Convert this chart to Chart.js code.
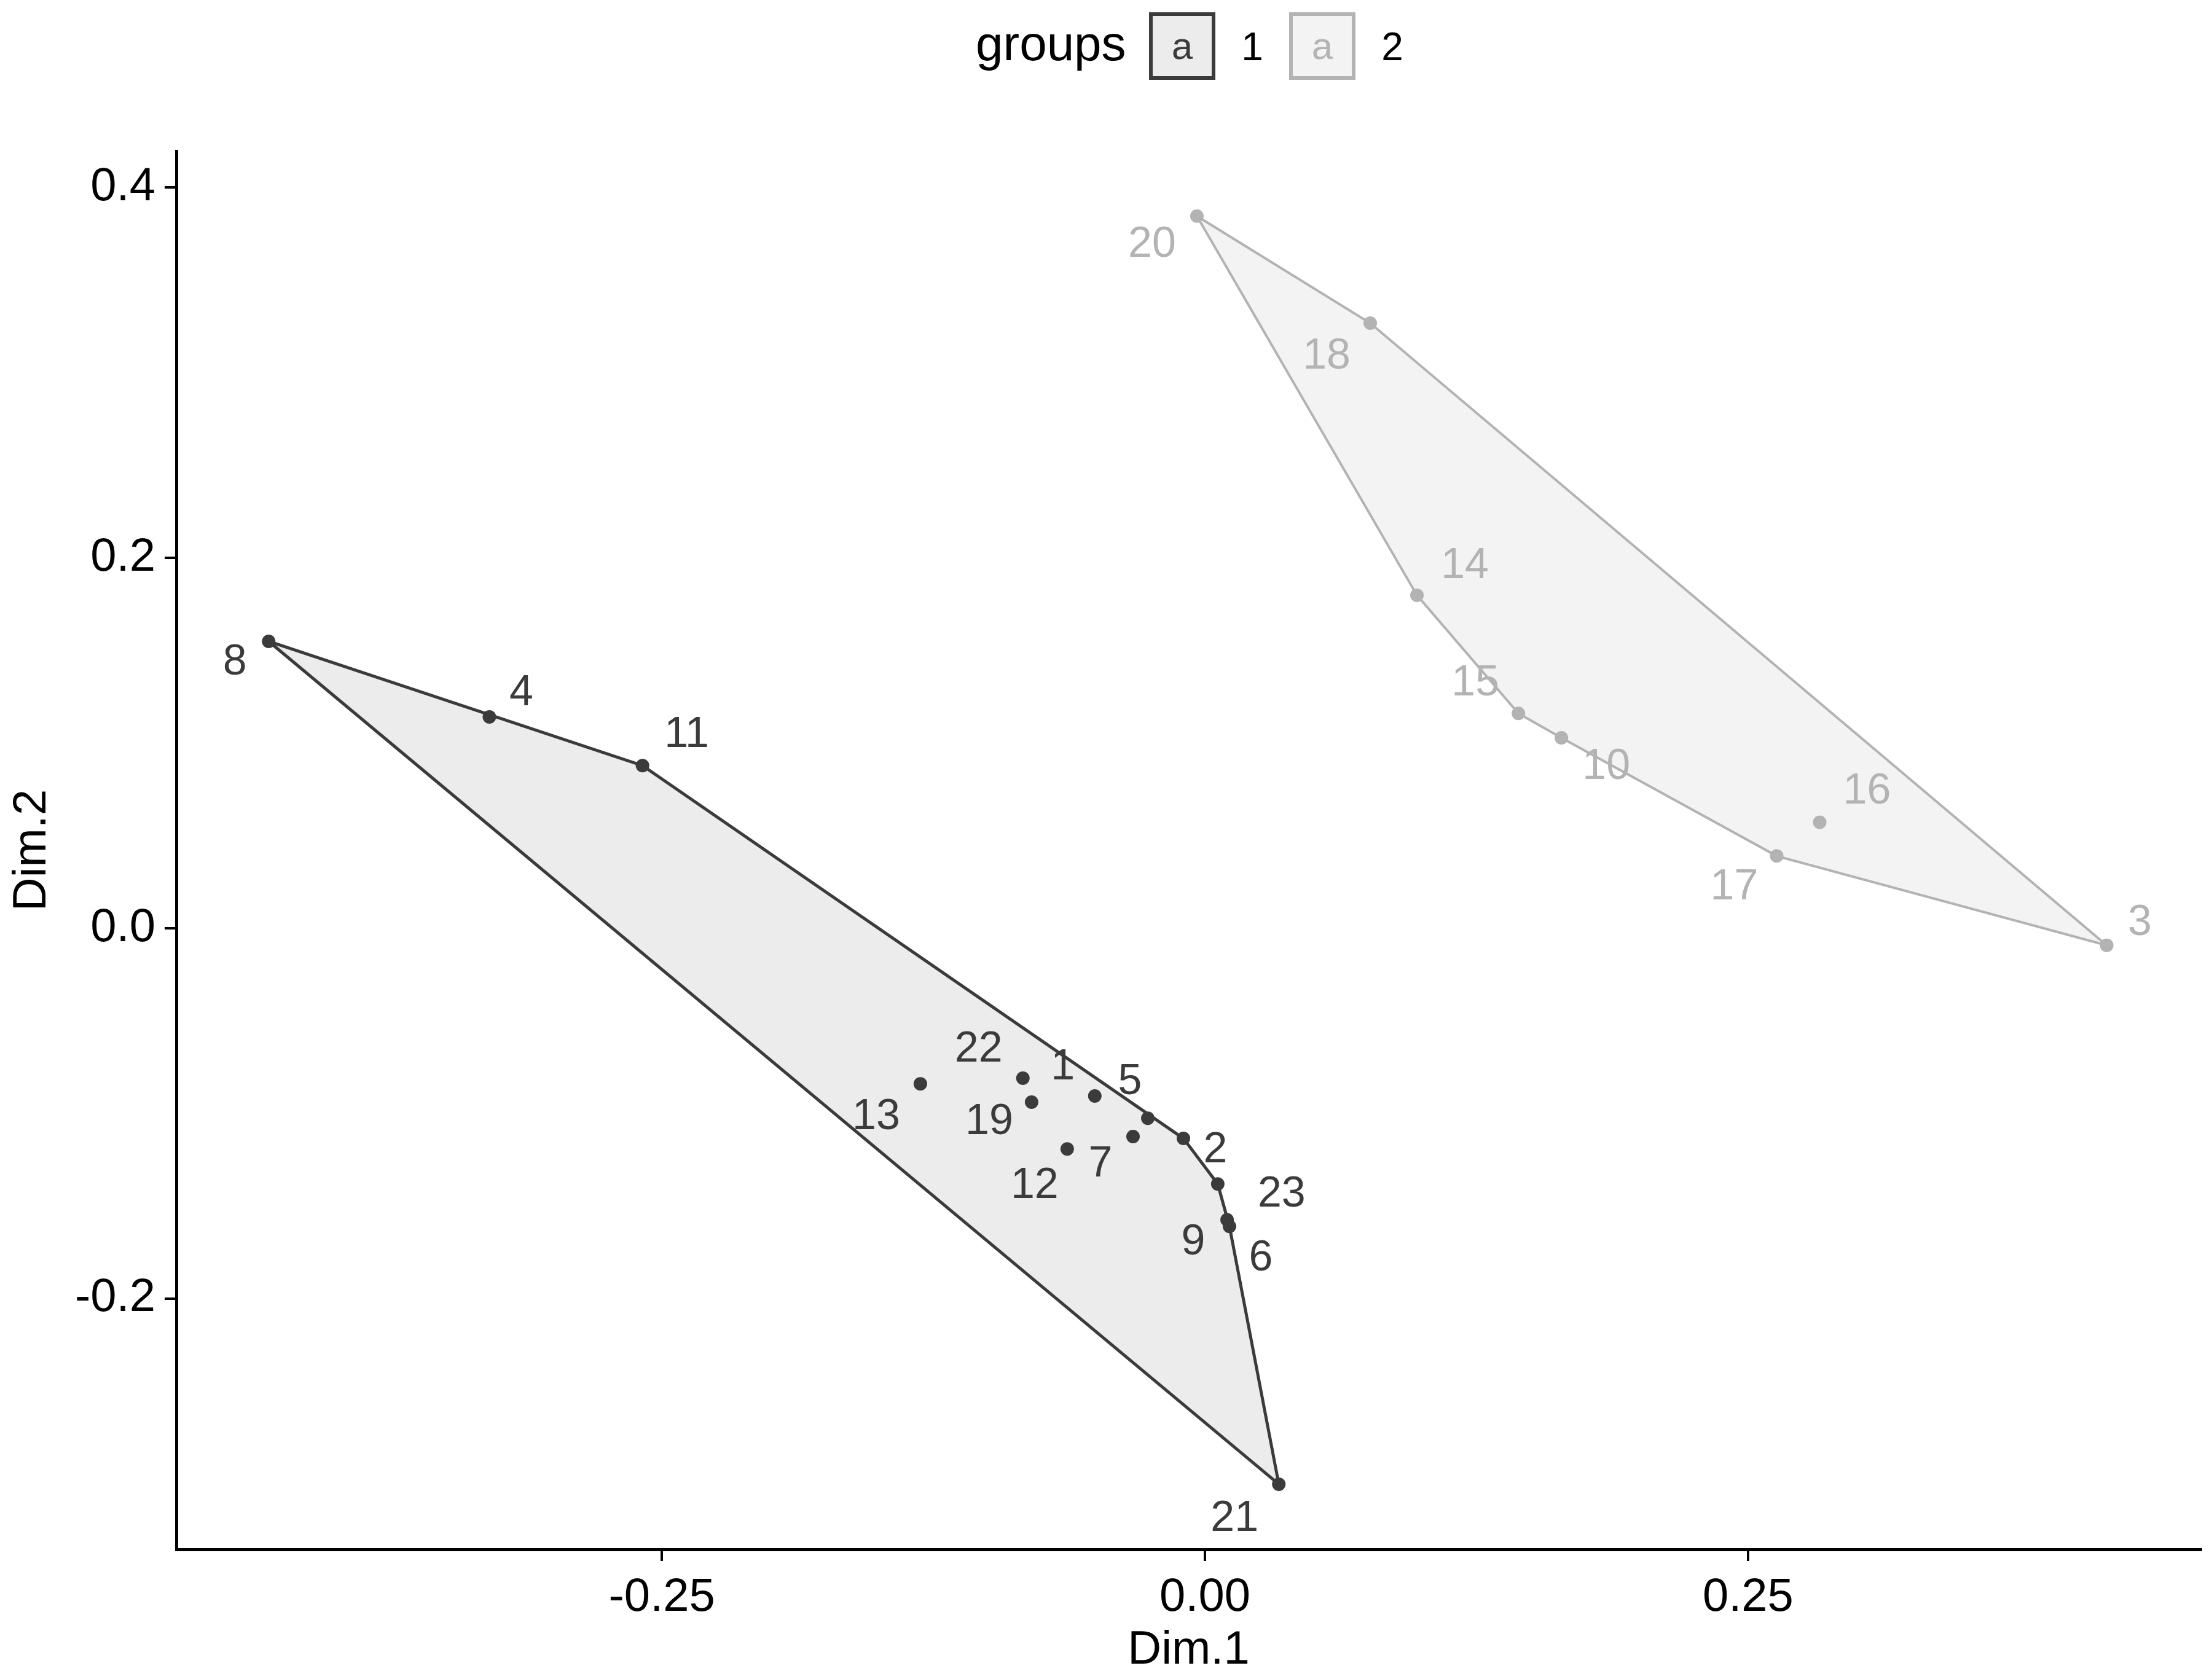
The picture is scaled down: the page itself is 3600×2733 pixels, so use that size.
<!DOCTYPE html>
<html>
<head>
<meta charset="utf-8">
<script src="https://cdn.jsdelivr.net/npm/chart.js@4.4.1/dist/chart.umd.min.js"></script>
<style>
  html, body { margin: 0; padding: 0; background: #ffffff; }
  #wrap { width: 3600px; height: 2733px; position: relative; }
</style>
</head>
<body>
<div id="wrap"><canvas id="clusterChart"></canvas></div>
<script>
// cluster 1 (dark)
const group1Ids = ['1', '2', '4', '5', '6', '7', '8', '9', '11', '12', '13', '19', '21', '22', '23'];
const group1X = [-0.0507, -0.0099, -0.3294, -0.0263, 0.0113, -0.0331, -0.4310, 0.0102, -0.2589, -0.0634, -0.1310, -0.0798, 0.0340, -0.0838, 0.0059];
const group1Y = [-0.0907, -0.1136, 0.1140, -0.1027, -0.1611, -0.1126, 0.1548, -0.1575, 0.0877, -0.1193, -0.0841, -0.0940, -0.3003, -0.0811, -0.1382];

// cluster 2 (light)
const group2Ids = ['3', '10', '14', '15', '16', '17', '18', '20'];
const group2X = [0.4151, 0.1641, 0.0976, 0.1443, 0.2830, 0.2632, 0.0761, -0.0037];
const group2Y = [-0.0093, 0.1027, 0.1797, 0.1159, 0.0571, 0.0389, 0.3266, 0.3844];

const xTickValues = [-0.25, 0, 0.25];
const xTickLabels = ['-0.25', '0.00', '0.25'];
const yTickValues = [-0.2, 0, 0.2, 0.4];
const yTickLabels = ['-0.2', '0.0', '0.2', '0.4'];

const groupNames = ['1', '2'];

// label nudges in pixels (text repel look)
const labelNudge = {
    '1': [-52, -46], '2': [52, 20], '4': [52, -38], '5': [-29, -59], '6': [51, 52],
    '7': [-53, 46], '8': [-55, 35], '9': [-55, 37], '11': [72, -50], '12': [-53, 60],
    '13': [-72, 55], '19': [-69, 33], '21': [-72, 57], '22': [-72, -46], '23': [104, 17],
    '3': [54, -36], '10': [73, 48], '14': [78, -47], '15': [-70, -49], '16': [77, -50],
    '17': [-69, 51], '18': [-71, 55], '20': [-73, 47]
};

const FONT = '"Liberation Sans", Arial, Helvetica, sans-serif';
const dark = '#3b3b3b';
const light = '#b3b3b3';
const darkFill = '#ececec';
const lightFill = '#f3f3f3';

function toPoints(xs, ys) {
    return xs.map((x, i) => ({ x: x, y: ys[i] }));
}

// convex hull (monotone chain), closed
function hull(pts) {
    const p = pts.slice().sort((a, b) => a.x - b.x || a.y - b.y);
    const cross = (o, a, b) => (a.x - o.x) * (b.y - o.y) - (a.y - o.y) * (b.x - o.x);
    const lower = [];
    p.forEach(pt => {
        while (lower.length >= 2 && cross(lower[lower.length - 2], lower[lower.length - 1], pt) <= 0) lower.pop();
        lower.push(pt);
    });
    const upper = [];
    p.slice().reverse().forEach(pt => {
        while (upper.length >= 2 && cross(upper[upper.length - 2], upper[upper.length - 1], pt) <= 0) upper.pop();
        upper.push(pt);
    });
    const h = lower.slice(0, -1).concat(upper.slice(0, -1));
    h.push(h[0]);
    return h;
}

const g1 = toPoints(group1X, group1Y);
const g2 = toPoints(group2X, group2Y);

const pointLabels = {
    id: 'pointLabels',
    afterDatasetsDraw(chart) {
        const ctx = chart.ctx;
        ctx.save();
        ctx.font = '70px ' + FONT;
        ctx.textAlign = 'center';
        ctx.textBaseline = 'middle';
        chart.data.datasets.forEach((ds, di) => {
            if (!ds.ids) return;
            const meta = chart.getDatasetMeta(di);
            ctx.fillStyle = ds.labelColor;
            meta.data.forEach((el, i) => {
                const id = ds.ids[i];
                const n = labelNudge[id] || [0, 0];
                ctx.fillText(id, el.x + n[0], el.y + n[1]);
            });
        });
        ctx.restore();
    }
};

const groupLegend = {
    id: 'groupLegend',
    afterDraw(chart) {
        const ctx = chart.ctx;
        ctx.save();
        ctx.textBaseline = 'alphabetic';
        ctx.textAlign = 'left';
        ctx.fillStyle = '#000';
        ctx.font = '80px ' + FONT;
        ctx.fillText('groups', 1588, 98);
        const keys = [
            { x: 1870, stroke: dark, fill: darkFill, name: groupNames[0] },
            { x: 2098, stroke: light, fill: lightFill, name: groupNames[1] }
        ];
        keys.forEach(k => {
            ctx.fillStyle = k.fill;
            ctx.fillRect(k.x, 20, 108, 110);
            ctx.strokeStyle = k.stroke;
            ctx.lineWidth = 6;
            ctx.strokeRect(k.x + 3, 23, 102, 104);
            ctx.fillStyle = k.stroke;
            ctx.font = '62px ' + FONT;
            ctx.textAlign = 'center';
            ctx.fillText('a', k.x + 54, 96);
            ctx.fillStyle = '#000';
            ctx.font = '64px ' + FONT;
            ctx.fillText(k.name, k.x + 168, 98);
        });
        ctx.restore();
    }
};

const ctx = document.getElementById('clusterChart').getContext('2d');
const clusterChart = new Chart(ctx, {
    type: 'scatter',
    data: {
        datasets: [
            {
                type: 'line',
                order: 2,
                data: hull(g1),
                borderColor: dark,
                backgroundColor: darkFill,
                borderWidth: 5,
                fill: 'shape',
                pointRadius: 0,
                tension: 0
            },
            {
                type: 'line',
                order: 2,
                data: hull(g2),
                borderColor: light,
                backgroundColor: lightFill,
                borderWidth: 4,
                fill: 'shape',
                pointRadius: 0,
                tension: 0
            },
            {
                order: 1,
                data: g1,
                ids: group1Ids,
                labelColor: dark,
                backgroundColor: dark,
                borderColor: dark,
                pointRadius: 11,
                borderWidth: 0
            },
            {
                order: 1,
                data: g2,
                ids: group2Ids,
                labelColor: light,
                backgroundColor: light,
                borderColor: light,
                pointRadius: 11,
                borderWidth: 0
            }
        ]
    },
    options: {
        responsive: true,
        maintainAspectRatio: false,
        devicePixelRatio: 1,
        animation: false,
        layout: { padding: { top: 246, right: 18, left: 0, bottom: 0 } },
        plugins: {
            legend: { display: false },
            tooltip: { enabled: false }
        },
        scales: {
            x: {
                type: 'linear',
                min: -0.4735,
                max: 0.4585,
                afterBuildTicks: s => { s.ticks = xTickValues.map(v => ({ value: v })); },
                afterFit: s => { s.height = 211; },
                border: { display: true, color: '#000', width: 5 },
                grid: { display: true, drawOnChartArea: false, drawTicks: true, tickLength: 19, color: '#000', lineWidth: 4 },
                ticks: {
                    color: '#000',
                    padding: 14,
                    maxRotation: 0,
                    font: { family: FONT, size: 76 },
                    callback: v => xTickLabels[xTickValues.indexOf(v)]
                },
                title: {
                    display: true,
                    text: 'Dim.1',
                    color: '#000',
                    font: { family: FONT, size: 76 },
                    padding: { top: 1, bottom: 0 }
                }
            },
            y: {
                type: 'linear',
                min: -0.3355,
                max: 0.4195,
                afterBuildTicks: s => { s.ticks = yTickValues.map(v => ({ value: v })); },
                afterFit: s => { s.width = 287; },
                border: { display: true, color: '#000', width: 5 },
                grid: { display: true, drawOnChartArea: false, drawTicks: true, tickLength: 19, color: '#000', lineWidth: 4 },
                ticks: {
                    color: '#000',
                    padding: 15,
                    font: { family: FONT, size: 76 },
                    callback: v => yTickLabels[yTickValues.indexOf(v)]
                },
                title: {
                    display: true,
                    text: 'Dim.2',
                    color: '#000',
                    font: { family: FONT, size: 76 },
                    padding: { top: 7, bottom: 0 }
                }
            }
        }
    },
    plugins: [pointLabels, groupLegend]
});
</script>
</body>
</html>
